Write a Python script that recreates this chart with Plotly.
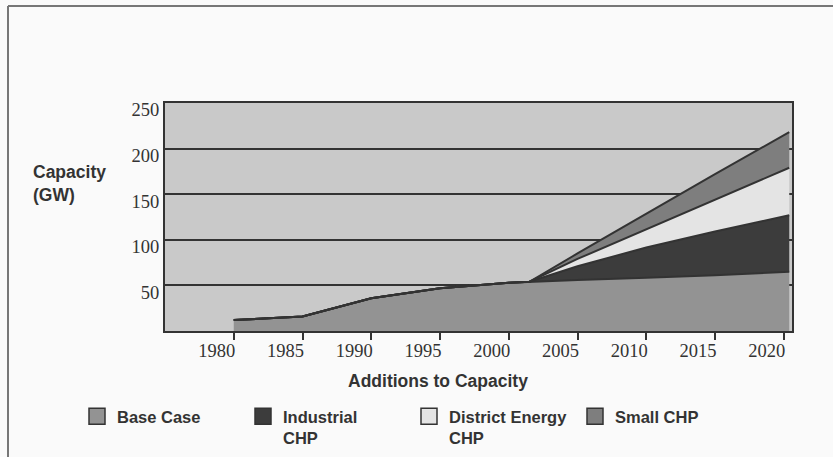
import plotly.graph_objects as go

years = [1980, 1985, 1990, 1995, 2000, 2001.5, 2005, 2010, 2015, 2020.4]
base_case = [12, 16, 36, 47, 53, 54, 56, 58.5, 61, 65]
industrial_chp = [0, 0, 0, 0, 0, 0, 15, 33, 48, 62]
district_energy_chp = [0, 0, 0, 0, 0, 0, 8, 20, 35, 52]
small_chp = [0, 0, 0, 0, 0, 0, 6, 17, 28, 39]

x_ticks = [1980, 1985, 1990, 1995, 2000, 2005, 2010, 2015, 2020]
y_ticks = [50, 100, 150, 200, 250]

series = [
    ("Base Case", base_case, "#939393"),
    ("Industrial<br>CHP", industrial_chp, "#3c3c3c"),
    ("District Energy<br>CHP", district_energy_chp, "#e4e4e4"),
    ("Small CHP", small_chp, "#7e7e7e"),
]

fig = go.Figure()
for name, vals, col in series:
    fig.add_trace(go.Scatter(
        x=years, y=vals, name=name, stackgroup="s", mode="lines",
        line=dict(color="#333333", width=2), fillcolor=col, showlegend=False,
    ))
# legend entries (square swatches)
for name, vals, col in series:
    fig.add_trace(go.Scatter(
        x=[None], y=[None], name=name, mode="markers",
        marker=dict(symbol="square", size=16, color=col,
                    line=dict(color="#333333", width=1.5)),
    ))

W, H = 833, 457
L, R, T, B = 165, 41, 103, 126
pw, ph = W - L - R, H - T - B

def px_x(p):
    return (p - L) / pw

def px_y(p):
    return (H - B - p) / ph

bold = dict(family="Liberation Sans", color="#333333", weight="bold")

fig.update_layout(
    width=W, height=H,
    margin=dict(l=L, r=R, t=T, b=B, autoexpand=False),
    paper_bgcolor="#fafafa",
    plot_bgcolor="#c9c9c9",
    showlegend=True,
    legend=dict(
        orientation="h", x=px_x(77), y=px_y(399), xanchor="left", yanchor="top",
        font=dict(size=16.5, **bold),
        bgcolor="rgba(0,0,0,0)", traceorder="normal", entrywidth=121,
        entrywidthmode="pixels", valign="top", itemsizing="trace",
    ),
    xaxis=dict(
        range=[1975, 2020.6], tickvals=x_ticks, showgrid=False,
        ticks="outside", ticklen=7, tickwidth=2, tickcolor="#333333",
        ticklabelshift=-17, ticklabelstandoff=-5,
        showline=True, linecolor="#333333", linewidth=2, mirror=True,
        tickfont=dict(family="Liberation Serif", size=18.5, color="#333333"),
        zeroline=False,
    ),
    yaxis=dict(
        range=[0, 250], tickvals=y_ticks, showgrid=True, gridcolor="#333333",
        gridwidth=2, ticks="", showline=True, linecolor="#333333", linewidth=2,
        mirror=True, zeroline=False, ticklabelshift=7,
        tickfont=dict(family="Liberation Serif", size=18.5, color="#333333"),
    ),
    annotations=[
        dict(text="Capacity<br>(GW)", xref="paper", yref="paper",
             x=px_x(31), y=px_y(160), xanchor="left", yanchor="top",
             showarrow=False, align="left",
             font=dict(size=17.5, **bold)),
        dict(text="Additions to Capacity", xref="paper", yref="paper",
             x=px_x(438), y=px_y(381), xanchor="center", yanchor="middle",
             showarrow=False,
             font=dict(size=17.5, **bold)),
    ],
    shapes=[
        dict(type="line", xref="paper", yref="paper",
             x0=px_x(8), x1=px_x(840), y0=px_y(6), y1=px_y(6),
             line=dict(color="#777777", width=2)),
        dict(type="line", xref="paper", yref="paper",
             x0=px_x(8), x1=px_x(8), y0=px_y(6), y1=px_y(470),
             line=dict(color="#777777", width=2)),
    ],
)

fig.write_html("out.html", config={"displayModeBar": False},
               post_script="document.body.style.margin='0';")
